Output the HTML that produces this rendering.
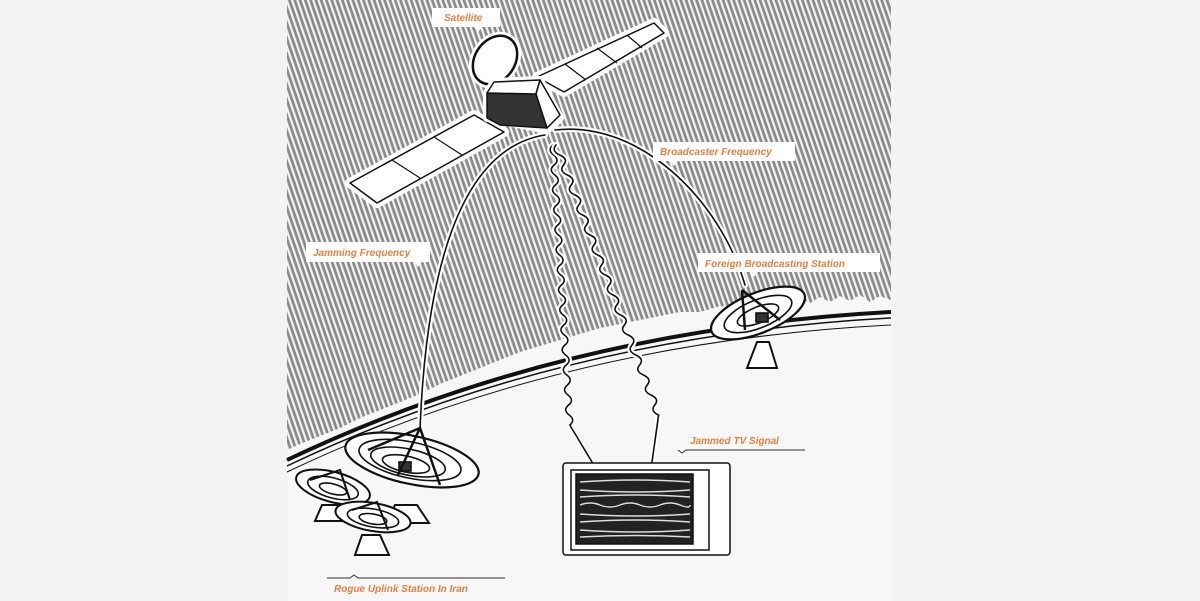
<!DOCTYPE html>
<html><head><meta charset="utf-8"><style>
html,body{margin:0;padding:0;background:#f3f3f3;}
svg{display:block}
text{font-family:"Liberation Sans",sans-serif;font-style:italic;font-weight:bold;font-size:10px;fill:#e8803e}
</style></head><body>
<svg width="1200" height="601" viewBox="0 0 1200 601" xmlns="http://www.w3.org/2000/svg">
<defs>
<pattern id="h" width="5" height="10" patternUnits="userSpaceOnUse" patternTransform="rotate(-19)">
<rect width="5" height="10" fill="#8a8a8a"/><rect x="0" width="2.2" height="10" fill="#f4f4f4"/>
</pattern>
</defs>
<rect x="287" y="0" width="604" height="601" fill="#f7f7f7"/>
<path d="M287 0 H891 V300 L880 296 870 302 860 295 850 301 840 296 830 302 820 297 810 303 800 298 790 304 780 300 770 306 760 302 740 308 720 306 700 312 680 312 660 316 640 320 620 324 600 328 580 334 560 340 540 346 520 352 500 360 480 368 460 376 440 384 420 394 400 402 380 410 360 418 340 428 320 436 300 444 287 450 Z" fill="url(#h)"/>
<path d="M287 460 Q560 330 891 312" fill="none" stroke="#111" stroke-width="4"/>
<path d="M287 466 Q560 336 891 318" fill="none" stroke="#111" stroke-width="1.5"/>
<path d="M287 472 Q560 342 891 325" fill="none" stroke="#111" stroke-width="1"/>
<g fill="none" stroke-linecap="round" stroke-linejoin="round">
<path d="M420 430 C425 300 450 150 545 135" stroke="#fff" stroke-width="6"/>
<path d="M420 430 C425 300 450 150 545 135" stroke="#111" stroke-width="1.6"/>
<path d="M555 130 C640 120 720 200 745 285" stroke="#fff" stroke-width="6"/>
<path d="M555 130 C640 120 720 200 745 285" stroke="#111" stroke-width="1.6"/>
<g id="w1">
<path d="M553 145 q-6 5 0.6 10 t0.6 10 t0.6 10 t0.6 10 t0.6 10 t0.6 10 t0.6 10 t0.6 10 t0.6 10 t0.6 10 t0.6 10 t0.6 10 t0.6 10 t0.6 10 t0.6 10 t0.6 10 t0.6 10 t0.6 10 t0.6 10 t0.6 10 t0.6 10 t0.6 10 t0.6 10 t0.6 10 t0.6 10 t0.6 10 t0.6 10 t0.6 10 L592 462" stroke="#fff" stroke-width="6"/>
<path d="M553 145 q-6 5 0.6 10 t0.6 10 t0.6 10 t0.6 10 t0.6 10 t0.6 10 t0.6 10 t0.6 10 t0.6 10 t0.6 10 t0.6 10 t0.6 10 t0.6 10 t0.6 10 t0.6 10 t0.6 10 t0.6 10 t0.6 10 t0.6 10 t0.6 10 t0.6 10 t0.6 10 t0.6 10 t0.6 10 t0.6 10 t0.6 10 t0.6 10 t0.6 10 L592 462" stroke="#111" stroke-width="1.6"/>
</g>
<path d="M556 145 q-5 6 3.8 10 t3.8 10 t3.8 10 t3.8 10 t3.8 10 t3.8 10 t3.8 10 t3.8 10 t3.8 10 t3.8 10 t3.8 10 t3.8 10 t3.8 10 t3.8 10 t3.8 10 t3.8 10 t3.8 10 t3.8 10 t3.8 10 t3.8 10 t3.8 10 t3.8 10 t3.8 10 t3.8 10 t3.8 10 t3.8 10 t3.8 10 L652 462" stroke="#fff" stroke-width="6"/>
<path d="M556 145 q-5 6 3.8 10 t3.8 10 t3.8 10 t3.8 10 t3.8 10 t3.8 10 t3.8 10 t3.8 10 t3.8 10 t3.8 10 t3.8 10 t3.8 10 t3.8 10 t3.8 10 t3.8 10 t3.8 10 t3.8 10 t3.8 10 t3.8 10 t3.8 10 t3.8 10 t3.8 10 t3.8 10 t3.8 10 t3.8 10 t3.8 10 t3.8 10 L652 462" stroke="#111" stroke-width="1.6"/>
</g>
<g stroke="#111" stroke-linejoin="round">
<polygon points="537,77 654,23 664,33 564,92" fill="#fff" stroke="#fff" stroke-width="10"/>
<polygon points="537,77 654,23 664,33 564,92" fill="#fff" stroke-width="1.5"/>
<line x1="565" y1="64" x2="586" y2="80" stroke-width="1.2"/><line x1="597" y1="48" x2="617" y2="63" stroke-width="1.2"/><line x1="627" y1="35" x2="642" y2="48" stroke-width="1.2"/>
<polygon points="350,183 474,115 504,132 377,203" fill="#fff" stroke="#fff" stroke-width="10"/>
<polygon points="350,183 474,115 504,132 377,203" fill="#fff" stroke-width="1.5"/>
<line x1="392" y1="160" x2="420" y2="178" stroke-width="1.2"/><line x1="434" y1="137" x2="462" y2="155" stroke-width="1.2"/>
<ellipse cx="495" cy="60" rx="20" ry="26" transform="rotate(35 495 60)" fill="#fff" stroke="#fff" stroke-width="8"/>
<ellipse cx="495" cy="60" rx="20" ry="26" transform="rotate(35 495 60)" fill="#fff" stroke-width="2.5"/>
<polygon points="487,93 494,82 540,80 560,118 547,130 487,118" fill="#fff" stroke="#fff" stroke-width="8"/>
<polygon points="487,93 536,94 547,128 500,125 487,118" fill="#333" stroke-width="1.5"/>
<polygon points="487,93 494,82 540,80 536,94" fill="#fff" stroke-width="1.5"/>
<polygon points="536,94 540,80 560,115 547,128" fill="#fff" stroke-width="1.5"/>
</g>
<g stroke="#111">
<rect x="563" y="463" width="167" height="92" rx="3" fill="#fff" stroke-width="1.5"/>
<rect x="571" y="470" width="138" height="80" fill="#fff" stroke-width="1.5"/>
<rect x="576" y="474" width="117" height="70" fill="#222" stroke-width="1.5"/>
<g stroke="#ddd" stroke-width="1.4" fill="none">
<path d="M580 482 q56 -4 110 0"/><path d="M580 490 q56 4 110 0"/><path d="M580 497 q56 -4 110 0"/>
<path d="M580 505 q10 -4 20 0 t20 0 t20 0 t20 0 t20 0 t10 0"/><path d="M580 514 q56 4 110 0"/><path d="M580 522 q56 -4 110 0"/><path d="M580 530 q56 4 110 0"/><path d="M580 537 q56 -3 110 0"/>
</g>
</g>
<g stroke="#111" fill="#fff" stroke-width="1.6">
<g>
<path d="M395 505 h22 l12 18 h-42 z" stroke-width="2"/>
<ellipse cx="412" cy="460" rx="68" ry="24" transform="rotate(12 412 460)" stroke-width="2.2"/>
<ellipse cx="410" cy="460" rx="52" ry="18" transform="rotate(12 410 460)" fill="none"/>
<ellipse cx="408" cy="462" rx="38" ry="13" transform="rotate(12 408 462)" fill="none"/>
<ellipse cx="406" cy="464" rx="24" ry="8" transform="rotate(12 406 464)" fill="none"/>
<rect x="399" y="462" width="12" height="9" fill="#333"/>
<path d="M368 450 L420 428 L440 485 M420 428 L398 475" fill="none" stroke-width="2.5"/>
</g>
<g>
<path d="M322 505 h16 l9 16 h-32 z" stroke-width="2"/>
<ellipse cx="333" cy="487" rx="38" ry="15" transform="rotate(15 333 487)" stroke-width="2"/>
<ellipse cx="333" cy="488" rx="26" ry="10" transform="rotate(15 333 488)" fill="none"/>
<ellipse cx="333" cy="489" rx="14" ry="5" transform="rotate(15 333 489)" fill="none"/>
<path d="M310 480 L340 470 L350 500" fill="none" stroke-width="2"/>
</g>
<g>
<path d="M362 535 h18 l9 20 h-34 z" stroke-width="2"/>
<ellipse cx="373" cy="517" rx="38" ry="14" transform="rotate(10 373 517)" stroke-width="2"/>
<ellipse cx="373" cy="518" rx="26" ry="9" transform="rotate(10 373 518)" fill="none"/>
<ellipse cx="373" cy="519" rx="14" ry="5" transform="rotate(10 373 519)" fill="none"/>
<path d="M352 510 L377 502 L388 530" fill="none" stroke-width="2"/>
</g>
<g>
<path d="M757 342 h12 l8 26 h-30 z" stroke-width="2"/>
<ellipse cx="758" cy="313" rx="50" ry="20" transform="rotate(-22 758 313)" stroke-width="2.2"/>
<ellipse cx="758" cy="314" rx="36" ry="14" transform="rotate(-22 758 314)" fill="none"/>
<ellipse cx="758" cy="315" rx="22" ry="8" transform="rotate(-22 758 315)" fill="none"/>
<rect x="756" y="313" width="12" height="9" fill="#333"/>
<path d="M742 290 L745 330 M742 290 L780 320" fill="none" stroke-width="2.5"/>
</g>
</g>
<g fill="#fff">
<rect x="432" y="8" width="68" height="19"/><path d="M474 27 l4 5 l4 -5z"/>
<rect x="653" y="142" width="142" height="19"/><path d="M670 161 l4 5 l4 -5z"/>
<rect x="306" y="242" width="124" height="20"/><path d="M414 262 l4 5 l4 -5z"/>
<rect x="698" y="253" width="182" height="19"/><path d="M750 272 l4 5 l4 -5z"/>
</g>
<text x="444" y="21">Satellite</text>
<text x="660" y="155">Broadcaster Frequency</text>
<text x="313" y="256">Jamming Frequency</text>
<text x="705" y="267">Foreign Broadcasting Station</text>
<text x="690" y="444">Jammed TV Signal</text>
<path d="M678 450 l4 3 l4 -3 H805" fill="none" stroke="#333" stroke-width="1"/>
<path d="M327 578 H350 l4 -3 l4 3 H505" fill="none" stroke="#333" stroke-width="1"/>
<text x="334" y="592">Rogue Uplink Station In Iran</text>
</svg>
</body></html>
